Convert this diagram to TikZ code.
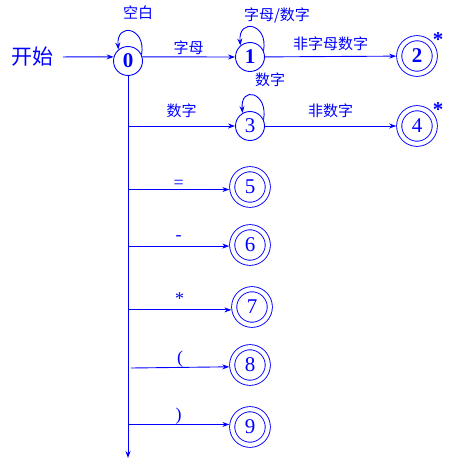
\documentclass[tikz,border=0pt]{standalone}
\usepackage{fontspec}
\setmainfont{Liberation Serif}
\newfontfamily\cjk{Noto Sans CJK SC}
\usetikzlibrary{arrows.meta}
\tikzset{
    state/.style={draw, circle, minimum size=29pt, inner sep=0pt,
        font=\fontsize{21}{21}\selectfont},
    final/.style={state, double, double distance=4.2pt, minimum size=35.6pt, outer sep=3pt},
    lab/.style={font=\cjk\fontsize{15}{15}\selectfont, inner sep=2pt},
    sym/.style={font=\fontsize{18}{18}\selectfont, inner sep=0pt, anchor=base},
    star/.style={font=\fontsize{21}{21}\selectfont\bfseries, inner sep=0pt},
}
\begin{document}
\begin{tikzpicture}[x=1pt, y=1pt, blue, line width=0.9pt, >={Stealth[length=7pt,width=5pt]}]
    \useasboundingbox (0,0) rectangle (476,472);
    \node (start) at (33,415) [font=\cjk\fontsize{21}{21}\selectfont] {开始};
    \node (q_0) [state] at (128,411) {\textbf{0}};
    \node (q_1) [state] at (250,415) {\textbf{1}};
    \node (q_2) [final] at (417,416) {\textbf{2}};
    \node (q_3) [state] at (250,346) {3};
    \node (q_4) [final] at (417,346) {4};
    \node (q_5) [final] at (250,285) {5};
    \node (q_6) [final] at (250,227) {6};
    \node (q_7) [final] at (252,165) {7};
    \node (q_8) [final] at (250,107) {8};
    \node (q_9) [final] at (250,45) {9};
    \node (a_2) at (438,432) [star] {*};
    \node (a_4) at (438,362) [star] {*};
    % self loops
    \draw [->] (q_0.25) .. controls +(80:28) and +(95:28) .. (q_0.130);
    \draw [->] (q_1.25) .. controls +(80:28) and +(95:28) .. (q_1.130);
    \draw [->] (q_3.25) .. controls +(80:28) and +(95:28) .. (q_3.120);
    \node (l_0) [lab] at (138,459) {空白};
    \node (l_1) [lab] at (277,457) {字母/数字};
    \node (l_3) [lab] at (270,392) {数字};
    % transitions
    \draw [->, shorten <=5pt] (start) -- (q_0.164);
    \draw [->] (q_0.16) -- node [lab, above] {字母} (q_1);
    \draw [->] (q_1) -- node [lab, above, yshift=3pt] {非字母数字} (q_2);
    \draw [->] (q_3) -- node [lab, above, yshift=6pt] {非数字} (q_4);
    \coordinate (b_end) at (128,14);
    \draw [->] (q_0) -- (b_end);
    \draw [->] (q_0 |- q_3) -- node [lab, above, yshift=6pt] {数字} (q_3);
    \draw [->] (q_0 |- q_5.187) -- node [sym, yshift=1pt] {=} (q_5.187);
    \draw [->] (q_0 |- q_6.183) -- node [sym, yshift=6pt] {-} (q_6.183);
    \draw [->] (q_0 |- q_7.188) -- node [sym, yshift=5pt] {*} (q_7.188);
    \draw [->] (131,104) coordinate (b_8) -- node [sym, yshift=4pt] {(} (q_8.185);
    \draw [->] (q_0 |- q_9.173) -- node [sym, yshift=4pt] {)} (q_9.173);
\end{tikzpicture}
\end{document}
